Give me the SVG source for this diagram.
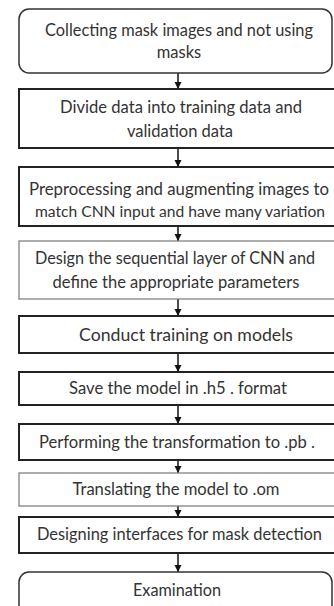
<svg xmlns="http://www.w3.org/2000/svg" width="334" height="606" viewBox="0 0 334 606">
<defs>
<style>
.b{fill:#fff;stroke:#222;stroke-width:2}
.r{fill:#fff;stroke:#333;stroke-width:1.5}
.l{fill:#fff;stroke:#777;stroke-width:1.2}
.t{font-family:Lato,"Open Sans","Liberation Sans",sans-serif;font-size:16.5px;fill:#333;text-anchor:middle}
.c{stroke:#111;stroke-width:1.5;fill:none}
</style>
<marker id="ah" viewBox="0 0 10 10" refX="10" refY="5" markerWidth="5" markerHeight="5" orient="auto" markerUnits="strokeWidth">
<path d="M0,0 L10,5 L0,10 z" fill="#111"/>
</marker>
</defs>
<rect width="334" height="606" fill="#fff"/>
<g id="connectors">
<line class="c" x1="178" y1="73" x2="178" y2="89" marker-end="url(#ah)"/>
<line class="c" x1="178" y1="148" x2="178" y2="167" marker-end="url(#ah)"/>
<line class="c" x1="178" y1="226" x2="178" y2="241" marker-end="url(#ah)"/>
<line class="c" x1="178" y1="299" x2="178" y2="316" marker-end="url(#ah)"/>
<line class="c" x1="178" y1="353" x2="178" y2="372" marker-end="url(#ah)"/>
<line class="c" x1="178" y1="405" x2="178" y2="424" marker-end="url(#ah)"/>
<line class="c" x1="178" y1="460" x2="178" y2="473" marker-end="url(#ah)"/>
<line class="c" x1="178" y1="506" x2="178" y2="517" marker-end="url(#ah)"/>
<line class="c" x1="178" y1="553" x2="178" y2="572" marker-end="url(#ah)"/>
</g>
<g id="n1"><rect class="r" x="19" y="9" width="313" height="64" rx="10"/>
<text class="t" x="179" y="35.5" textLength="268" lengthAdjust="spacingAndGlyphs">Collecting mask images and not using</text>
<text class="t" x="179" y="58">masks</text></g>
<g id="n2"><rect class="b" x="19" y="89" width="325" height="59"/>
<text class="t" x="181" y="113" textLength="242" lengthAdjust="spacingAndGlyphs">Divide data into training data and</text>
<text class="t" x="180" y="137">validation data</text></g>
<g id="n3"><rect class="b" x="19" y="167" width="325" height="59"/>
<text class="t" x="179" y="195" textLength="300" lengthAdjust="spacingAndGlyphs">Preprocessing and augmenting images to</text>
<text class="t" x="180" y="217" style="font-size:15.5px" textLength="290" lengthAdjust="spacingAndGlyphs">match CNN input and have many variation</text></g>
<g id="n4"><rect class="l" x="19" y="241" width="325" height="58"/>
<text class="t" x="175" y="264" textLength="280" lengthAdjust="spacingAndGlyphs">Design the sequential layer of CNN and</text>
<text class="t" x="176" y="288">define the appropriate parameters</text></g>
<g id="n5"><rect class="b" x="19" y="316" width="325" height="37"/>
<text class="t" x="186" y="341" textLength="214" lengthAdjust="spacingAndGlyphs">Conduct training on models</text></g>
<g id="n6"><rect class="b" x="19" y="372" width="325" height="33"/>
<text class="t" x="178" y="394" textLength="218" lengthAdjust="spacingAndGlyphs">Save the model in .h5 . format</text></g>
<g id="n7"><rect class="b" x="19" y="424" width="325" height="36"/>
<text class="t" x="177" y="448" textLength="276" lengthAdjust="spacingAndGlyphs">Performing the transformation to .pb .</text></g>
<g id="n8"><rect class="l" x="19" y="473" width="325" height="33"/>
<text class="t" x="176" y="495" textLength="207" lengthAdjust="spacingAndGlyphs">Translating the model to .om</text></g>
<g id="n9"><rect class="b" x="19" y="517" width="325" height="36"/>
<text class="t" x="179.5" y="540" textLength="285" lengthAdjust="spacingAndGlyphs">Designing interfaces for mask detection</text></g>
<g id="n10"><rect class="r" x="19" y="572" width="313" height="44" rx="10"/>
<text class="t" x="177" y="596" textLength="88" lengthAdjust="spacingAndGlyphs">Examination</text></g>
</svg>
